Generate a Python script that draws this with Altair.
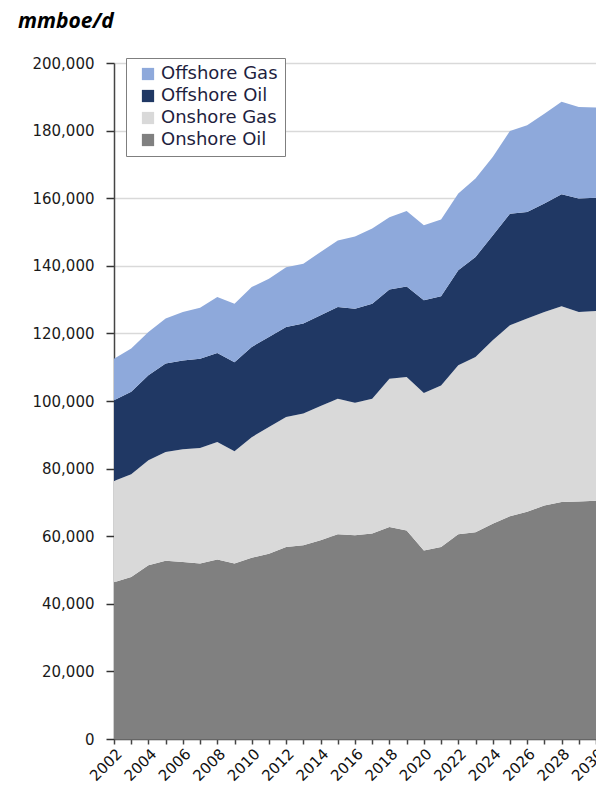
import altair as alt
import pandas as pd

years = list(range(2002, 2031))

onshore_oil = [46400, 47900, 51400, 52700, 52400, 51900, 53100, 51900, 53600, 54800,
               56800, 57300, 58800, 60600, 60300, 60800, 62700, 61700, 55800, 56800,
               60600, 61200, 63700, 65900, 67200, 69100, 70100, 70300, 70500]
onshore_gas = [29900, 30400, 31100, 32200, 33300, 34200, 34800, 33200, 35700, 37500,
               38500, 39000, 39700, 40100, 39200, 39900, 43900, 45400, 46600, 47800,
               50000, 51800, 54300, 56500, 57200, 57200, 57900, 56000, 56100]
offshore_oil = [23900, 24400, 25100, 26200, 26300, 26400, 26300, 26400, 26700, 26600,
                26600, 26600, 26900, 27100, 27800, 28100, 26400, 26800, 27400, 26400,
                28100, 29600, 31000, 33000, 31500, 32100, 33200, 33600, 33500]
offshore_gas = [12300, 12800, 12800, 13300, 14300, 15100, 16600, 17300, 17700, 17300,
                17700, 17700, 18700, 19700, 21400, 22200, 21400, 22300, 22200, 22700,
                22700, 23200, 23200, 24500, 25700, 26600, 27300, 27100, 26700]

legend_order = ["Offshore Gas", "Offshore Oil", "Onshore Gas", "Onshore Oil"]
colors = ["#8EA9DB", "#203864", "#D9D9D9", "#808080"]
y_ticks = list(range(0, 200001, 20000))

stack = [("Onshore Oil", onshore_oil), ("Onshore Gas", onshore_gas),
         ("Offshore Oil", offshore_oil), ("Offshore Gas", offshore_gas)]
rows = []
for idx, (name, vals) in enumerate(stack):
    for yr, v in zip(years, vals):
        rows.append({"year": yr, "series": name, "value": v, "stackorder": idx})
df = pd.DataFrame(rows)

chart = alt.Chart(df).mark_area(interpolate="linear").encode(
    x=alt.X("year:Q",
            scale=alt.Scale(domain=[2002, 2030], nice=False, zero=False),
            axis=alt.Axis(values=years, format="d",
                          labelExpr="datum.value % 2 == 0 ? datum.label : ''",
                          labelAngle=-45, labelAlign="right", labelBaseline="top",
                          labelFont="DejaVu Sans", labelFontSize=15, labelColor="#111111",
                          labelPadding=2, tickSize=5, tickColor="#444444", tickWidth=1.5,
                          domainColor="#666666", domainWidth=1.5, grid=False,
                          labelOverlap=False, labelBound=False, labelFlush=False),
            title=None),
    y=alt.Y("value:Q", stack="zero",
            scale=alt.Scale(domain=[0, 200000], nice=False),
            axis=alt.Axis(values=y_ticks, format=",d",
                          labelFont="DejaVu Sans", labelFontSize=15, labelColor="#1a1a1a",
                          labelPadding=12, tickSize=8, tickColor="#333333", tickWidth=1.5,
                          domainColor="#444444", domainWidth=1.5,
                          grid=True, gridColor="#d9d9d9", gridWidth=1.5),
            title=None),
    color=alt.Color("series:N",
                    scale=alt.Scale(domain=legend_order, range=colors),
                    legend=alt.Legend(title=None, orient="none", legendX=12, legendY=-5,
                                      fillColor="white", strokeColor="#7f7f7f",
                                      padding=7, rowPadding=4,
                                      labelFont="DejaVu Sans", labelFontSize=18,
                                      labelColor="#1f1f3f", labelOffset=4,
                                      symbolOffset=6,
                                      symbolType="square", symbolSize=150,
                                      symbolStrokeWidth=0)),
    order=alt.Order("stackorder:Q", sort="ascending"),
).properties(
    width=482, height=676,
    autosize=alt.AutoSizeParams(type="none"),
    padding={"left": 106, "top": 55, "right": 0, "bottom": 46},
    title=alt.TitleParams("mmboe/d", anchor="start", frame="group", dx=-96,
                          font="Open Sans", fontSize=21, fontWeight="bold",
                          fontStyle="italic", color="#000000", offset=24),
).configure_view(stroke=None)

chart.save("out.html", embed_options={"renderer": "svg", "actions": False})
